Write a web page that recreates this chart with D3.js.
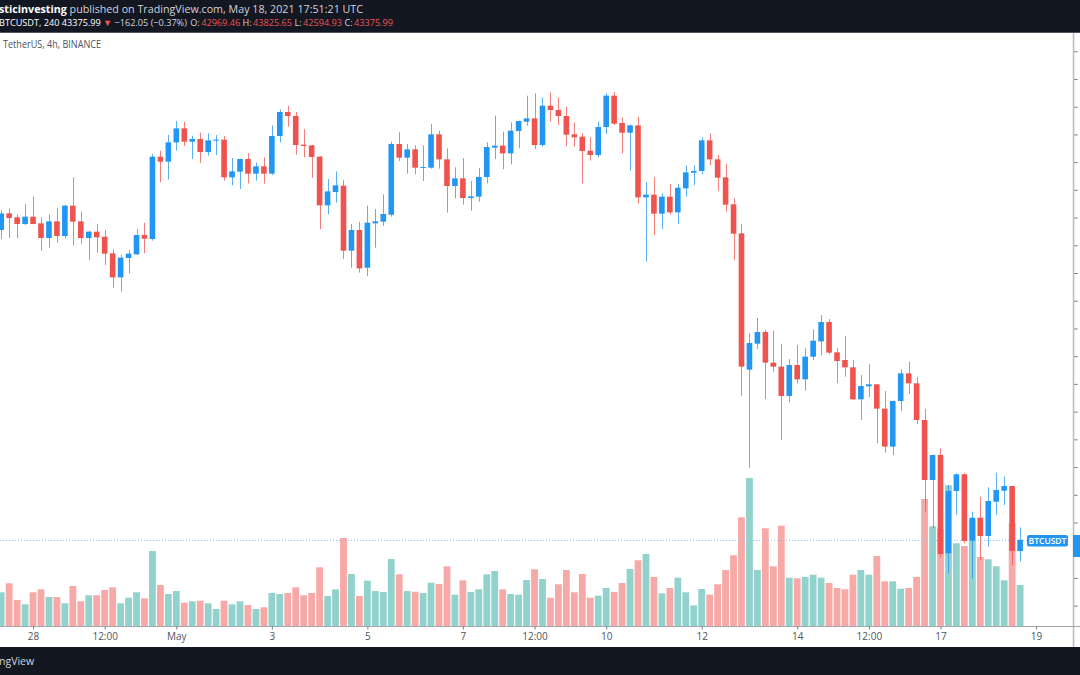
<!DOCTYPE html>
<html><head><meta charset="utf-8">
<script src="https://cdn.jsdelivr.net/npm/d3@7"></script>
<style>html,body{margin:0;padding:0;background:#fff;overflow:hidden}</style>
</head><body><svg id="c" width="1080" height="675"></svg>
<script>
// ---- data (BTCUSDT, 4h candles, Binance) ----
const startTime = "2021-04-27T08:00:00Z";
const opens = [54552,55153,55009,54768,55033,54792,54263,54864,54335,55430,54864,54263,54492,54311,53710,52844,53542,53674,54371,54227,
57197,57017,57714,58219,57738,57835,57366,57774,57811,56452,56656,57113,56584,56849,56584,57943,58809,58664,57630,57606,
57197,55442,55923,56151,53806,54552,53193,54792,54852,55105,57654,57161,57462,56800,56800,58003,57101,56139,56416,55706,
55754,56464,57522,57594,57317,58123,58460,58580,57618,59037,58881,58664,58003,57919,57414,57257,58267,59398,58412,58063,
58328,55730,55826,55141,55754,55189,56055,56620,56680,57786,57101,56452,55478,54431,49514,50451,50872,49766,49622,48564,
49682,49165,49982,50535,51233,50139,49862,49598,48444,48913,48985,48107,46736,48383,49381,49021,47698,45533,46435,42888,
45137,45738,43343,44173,43513,44750,45147,45317,42969.46];
const highs = [55273,55333,55117,55490,55754,55009,55117,55345,55454,56452,55213,54528,54768,54552,53854,53662,53830,54588,54816,57293,
57414,57979,58484,58448,57955,58063,58039,57979,57943,57149,57125,57317,56981,57173,58328,58905,59025,58809,58195,57620,
57221,56392,56668,56355,54768,54852,55430,55309,55838,57738,58087,57654,57606,57606,58376,58135,57498,56812,57149,56319,
56788,57714,58676,58099,58436,58500,59398,59482,59338,59518,59338,59001,58436,58039,57895,58460,59482,59530,58616,58352,
58628,56283,56464,55874,56211,56211,56885,56885,57895,58039,57257,56933,55694,54768,50824,51377,50944,50920,50451,49890,
50404,50283,50968,51485,51341,50295,50728,49862,49321,49706,49000,48744,48400,49526,49802,49261,48095,46450,46676,45353,
45774,45790,44390,44931,45270,45797,45652,45330,43825.65];
const lows = [54227,54263,54251,54732,54760,53806,53914,54095,54251,53987,54047,53469,53734,53289,52471,52327,52988,53650,53710,54167,
56271,56380,57414,57582,57113,56969,57233,57257,56331,56163,56031,56235,56331,56223,56536,57714,58279,57269,57173,56428,
54576,55117,55538,53506,53193,53013,52892,53914,54696,55033,57041,56584,56560,56319,56764,56764,55177,55694,55466,55249,
55574,56235,57113,56740,56921,57498,58316,57474,57558,58460,58340,57582,57558,56235,57053,57173,58015,58340,57317,56692,
55514,53409,54371,54588,55117,54768,55754,56163,56560,56885,55959,55213,53469,48576,45978,50259,48444,49442,46976,48335,
49021,48756,49862,50030,50066,49021,49261,48420,47698,48516,46856,46520,46435,48023,48636,47554,44391,43790,42744,42166,
44271,43250,41987,42650,43127,44271,44631,42467,42594.93];
const closes = [55153,54985,54768,55033,54768,54263,54864,54335,55430,54852,54263,54492,54287,53698,52844,53554,53698,54371,54239,57197,
57017,57714,58219,57738,57835,57366,57786,57811,56452,56668,57113,56584,56849,56584,57943,58809,58664,57618,57582,57185,
55442,55947,56163,53806,54552,53169,54816,54864,55129,57654,57161,57462,56800,56824,58003,57101,56139,56416,55706,55766,
56464,57546,57594,57317,58135,58484,58580,57618,59037,58881,58664,57991,57895,57402,57257,58267,59398,58388,58063,58328,
55730,55826,55141,55754,55189,56079,56632,56680,57786,57101,56440,55466,54419,49622,50476,50872,49766,49622,48564,49682,
49165,49983,50559,51233,50127,49826,49598,48444,48925,48985,48107,46736,48383,49381,49021,47698,45533,46435,42864,45137,
45738,43333,44173,43513,44776,45172,45317,42969.46,43375.99];
const volumes = [11458,14518,8840,7378,11458,12478,9860,9860,7718,13600,8398,10438,10438,12240,13158,7718,9622,11458,9418,25500,
13940,10880,11900,7922,8398,8602,7718,5780,8602,7378,8398,7140,5780,6358,11220,10880,11220,13158,10438,11220,
19958,10200,12478,29920,17680,10200,15402,11900,11560,22780,17578,11900,11662,11220,14722,14280,20298,10642,15538,11560,
12478,17578,18700,12478,10880,10642,15640,19278,15980,9622,14178,19040,11458,17680,9622,10302,12920,11560,14620,19380,
22338,24480,16660,11118,12920,16422,11458,7038,12580,10642,14178,19040,24038,36958,50320,19040,33218,20298,34102,16422,
16218,16660,17442,16422,14620,12920,12478,17442,19040,17442,23800,15198,15198,12682,12920,16660,43180,33898,32980,47838,
28118,27200,36278,23460,22678,20298,15538,34918,13940];
const timeTickDates = ["2021-04-28T00:00:00Z","2021-04-29T12:00:00Z","2021-05-01T00:00:00Z","2021-05-03T00:00:00Z","2021-05-05T00:00:00Z",
"2021-05-07T00:00:00Z","2021-05-08T12:00:00Z","2021-05-10T00:00:00Z","2021-05-12T00:00:00Z","2021-05-14T00:00:00Z",
"2021-05-15T12:00:00Z","2021-05-17T00:00:00Z","2021-05-19T00:00:00Z"];
const timeTickLabels = ["28","12:00","May","3","5","7","12:00","10","12","14","12:00","17","19"];
const lastPrice = 43375.99;

// ---- drawing ----
const W = 1080, H = 675;
const svg = d3.select("#c");
const FONT = "'Open Sans', 'Liberation Sans', sans-serif";
const UP = "#2196f3", DOWN = "#ef5350";
const VUP = "#92d2cc", VDOWN = "#f7a9a7";

const t0 = new Date(startTime).getTime();
const times = opens.map((_, i) => new Date(t0 + i * 4 * 3600 * 1000));
const x = d3.scaleTime().domain([times[0], times[times.length - 1]]).range([1.2, 1020.1]);
const y = d3.scaleLinear().domain([40266, 61659]).range([626, 33]);
const yv = d3.scaleLinear().domain([0, 60000]).range([626, 449.5]);

const data = opens.map((o, i) => ({t: times[i], o, h: highs[i], l: lows[i], c: closes[i], v: volumes[i]}));

svg.append("rect").attr("x", 0).attr("y", 0).attr("width", W).attr("height", H).attr("fill", "#ffffff");
svg.append("defs").append("clipPath").attr("id", "pane")
  .append("rect").attr("x", 0).attr("y", 33).attr("width", 1073).attr("height", 593);
const pane = svg.append("g").attr("clip-path", "url(#pane)");

// volume bars
const bw = 6.8;
pane.append("g").selectAll("rect").data(data).join("rect")
  .attr("x", d => x(d.t) - bw / 2)
  .attr("y", d => yv(d.v))
  .attr("width", bw)
  .attr("height", d => yv(0) - yv(d.v))
  .attr("fill", d => d.c >= d.o ? VUP : VDOWN);

// price line (dotted)
pane.append("line")
  .attr("x1", 0).attr("x2", 1027)
  .attr("y1", Math.round(y(lastPrice)) + 0.5).attr("y2", Math.round(y(lastPrice)) + 0.5)
  .attr("stroke", "#8cc4f5").attr("stroke-width", 1).attr("stroke-dasharray", "1,2");

// candles
const cg = pane.append("g").selectAll("g").data(data).join("g");
cg.append("line")
  .attr("x1", d => Math.round(x(d.t)) + 0.5).attr("x2", d => Math.round(x(d.t)) + 0.5)
  .attr("y1", d => y(d.h)).attr("y2", d => y(d.l))
  .attr("stroke", d => d.c >= d.o ? UP : DOWN).attr("stroke-opacity", 0.75).attr("stroke-width", 1);
const cw = 5.6;
cg.append("rect")
  .attr("x", d => x(d.t) - cw / 2)
  .attr("y", d => y(Math.max(d.o, d.c)))
  .attr("width", cw)
  .attr("height", d => Math.max(1, Math.abs(y(d.o) - y(d.c))))
  .attr("fill", d => d.c >= d.o ? UP : DOWN);

// price axis (its labels fall outside the crop)
const yAxis = d3.axisRight(y).tickValues(d3.range(41000, 62000, 1000)).tickSize(4).tickFormat(() => "");
const ya = svg.append("g").attr("transform", "translate(1073.5,0)").call(yAxis);
ya.select(".domain").remove();
ya.selectAll(".tick line").attr("stroke", "#787b86");
svg.append("line").attr("x1", 1073.5).attr("x2", 1073.5).attr("y1", 33).attr("y2", 647)
  .attr("stroke", "#b8bbc2").attr("stroke-width", 1.5);

// time axis
svg.append("line").attr("x1", 0).attr("x2", W).attr("y1", 626.5).attr("y2", 626.5)
  .attr("stroke", "#a3a6af").attr("stroke-width", 1);
const xAxis = d3.axisBottom(x).tickValues(timeTickDates.map(s => new Date(s)))
  .tickFormat((d, i) => timeTickLabels[i]).tickSize(3).tickPadding(3);
const xa = svg.append("g").attr("transform", "translate(0,626.5)").call(xAxis);
xa.select(".domain").remove();
xa.selectAll(".tick line").attr("stroke", "#787b86");
xa.selectAll(".tick text").attr("fill", "#50535e").attr("font-family", FONT).attr("font-size", 10);

// last price labels
svg.append("rect").attr("x", 1027).attr("y", 535).attr("width", 41).attr("height", 11.5).attr("rx", 2)
  .attr("fill", UP);
svg.append("text").attr("x", 1047.5).attr("y", 543.8).attr("text-anchor", "middle")
  .attr("font-family", FONT).attr("font-size", 8.5).attr("font-weight", 600).attr("fill", "#fff").text("BTCUSDT");
svg.append("rect").attr("x", 1073).attr("y", 535).attr("width", 10).attr("height", 22).attr("fill", UP);

// header
svg.append("rect").attr("x", 0).attr("y", 0).attr("width", W).attr("height", 32).attr("fill", "#131722");
svg.append("line").attr("x1", 0).attr("x2", W).attr("y1", 32.5).attr("y2", 32.5).attr("stroke", "#50535e");

const l1 = svg.append("text").attr("x", -1).attr("y", 13).attr("font-family", FONT).attr("font-size", 10.2)
  .attr("fill", "#d1d4dc").attr("textLength", 364).attr("lengthAdjust", "spacingAndGlyphs");
l1.append("tspan").attr("font-weight", 700).attr("fill", "#ffffff").text("sticinvesting");
l1.append("tspan").text(" published on TradingView.com, May 18, 2021 17:51:21 UTC");

// OHLC line: each label and its value share one tspan-run; values get a small gap
const l2parts = [
  ["BTCUSDT, 240 ", "#ffffff", 0], ["43375.99 ", "#ffffff", 0], ["▼ ", DOWN, 0], ["−162.05 (−0.37%) ", "#d1d4dc", 0],
  ["O:", "#d1d4dc", 1], ["42969.46 ", DOWN, 1.5], ["H:", "#d1d4dc", 0], ["43825.65 ", DOWN, 1.5],
  ["L:", "#d1d4dc", 0], ["42594.93 ", DOWN, 1.5], ["C:", "#d1d4dc", 0], ["43375.99", DOWN, 1.5]
];
const l2 = svg.append("text").attr("x", -1).attr("y", 26).attr("font-family", FONT).attr("font-size", 9.4)
  .attr("textLength", 394).attr("lengthAdjust", "spacingAndGlyphs").style("white-space", "pre");
l2.selectAll("tspan").data(l2parts).join("tspan").attr("fill", d => d[1]).attr("dx", d => d[2]).text(d => d[0]);

// legend line under header
svg.append("text").attr("x", 3).attr("y", 48).attr("font-family", FONT).attr("font-size", 10.5)
  .attr("fill", "#4c525e").attr("textLength", 98).attr("lengthAdjust", "spacingAndGlyphs")
  .text("TetherUS, 4h, BINANCE");

// footer
svg.append("rect").attr("x", 0).attr("y", 647).attr("width", W).attr("height", 28).attr("fill", "#131722");
svg.append("text").attr("x", -1).attr("y", 665).attr("font-family", FONT).attr("font-size", 10.5)
  .attr("fill", "#d1d4dc").text("ngView");
</script></body></html>
